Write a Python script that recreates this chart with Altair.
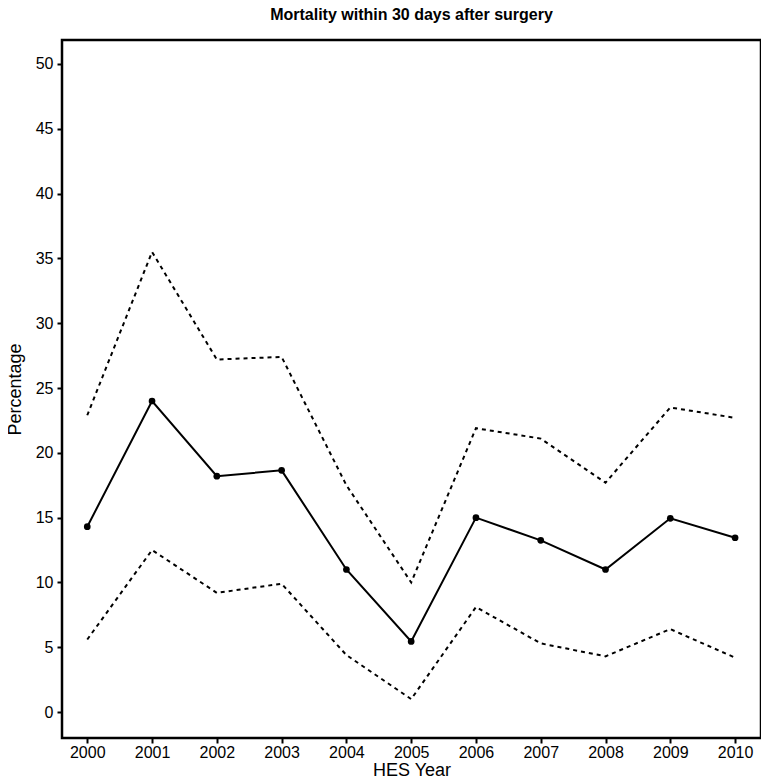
import altair as alt
import pandas as pd

years = [2000, 2001, 2002, 2003, 2004, 2005, 2006, 2007, 2008, 2009, 2010]
mortality = [14.3, 24.0, 18.2, 18.65, 11.0, 5.45, 15.0, 13.25, 11.0, 14.95, 13.45]
upper_ci = [22.9, 35.5, 27.2, 27.4, 17.5, 10.0, 21.9, 21.1, 17.7, 23.5, 22.7]
lower_ci = [5.6, 12.5, 9.2, 9.9, 4.4, 1.0, 8.1, 5.3, 4.3, 6.4, 4.2]

df = pd.DataFrame({"year": years, "mean": mortality, "upper": upper_ci, "lower": lower_ci})

FONT = "Liberation Sans"

x = alt.X("year:Q", title="HES Year",
          scale=alt.Scale(domain=[1999.61, 2010.4], nice=False, zero=False),
          axis=alt.Axis(values=years, format="d", grid=False, domain=False,
                        tickColor="black", tickWidth=2, tickSize=5,
                        labelColor="black", labelFont=FONT, labelFontSize=16,
                        labelPadding=1, titleFont=FONT, titleFontSize=18,
                        titleFontWeight="normal", titleColor="black", titlePadding=1))
y_scale = alt.Scale(domain=[-2.0, 51.85], nice=False, zero=False)
y_axis = alt.Axis(values=list(range(0, 51, 5)), grid=False, domain=False,
                  tickColor="black", tickWidth=2, tickSize=5,
                  labelColor="black", labelFont=FONT, labelFontSize=16,
                  labelPadding=4, titleFont=FONT, titleFontSize=18,
                  titleFontWeight="normal", titleColor="black", titlePadding=11)

base = alt.Chart(df)

upper = base.mark_line(color="black", strokeWidth=2, strokeDash=[4, 4]).encode(
    x=x, y=alt.Y("upper:Q", title="Percentage", scale=y_scale, axis=y_axis))
lower = base.mark_line(color="black", strokeWidth=2, strokeDash=[4, 4]).encode(
    x=x, y=alt.Y("lower:Q", scale=y_scale))
mean_line = base.mark_line(color="black", strokeWidth=2).encode(
    x=x, y=alt.Y("mean:Q", scale=y_scale))
mean_pts = base.mark_circle(color="black", opacity=1, size=45).encode(
    x=x, y=alt.Y("mean:Q", scale=y_scale))

chart = alt.layer(upper, lower, mean_line, mean_pts).properties(
    width=699, height=698,
    title=alt.TitleParams("Mortality within 30 days after surgery", font=FONT,
                          fontSize=16, fontWeight="bold", color="black",
                          anchor="middle", offset=17),
    autosize=alt.AutoSizeParams(type="none"),
    padding={"left": 54, "top": 32, "right": 0, "bottom": 45},
).configure(background="white").configure_view(stroke="black", strokeWidth=2.5)

chart.save("out.html", embed_options={"renderer": "svg", "actions": False})
